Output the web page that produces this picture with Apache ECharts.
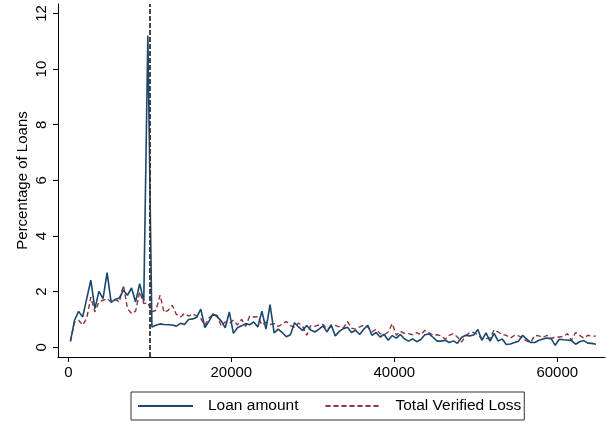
<!DOCTYPE html>
<html>
<head>
<meta charset="utf-8">
<script src="https://cdn.jsdelivr.net/npm/echarts@6/dist/echarts.min.js"></script>
<style>
  html, body { margin: 0; padding: 0; background: #fff; }
  #chart { width: 610px; height: 428px; }
</style>
</head>
<body>
<div id="chart"></div>
<script>
// Bins of $500, starting at $0; each point sits at its bin midpoint
const binStart = 0;
const binWidth = 500;

// Percentage of loans in each bin
const loanAmount = [
  0.22, 0.97, 1.29, 1.09, 1.75, 2.41, 1.39, 2.01, 1.75, 2.68,
  1.61, 1.72, 1.77, 2.05, 1.87, 2.13, 1.63, 2.29, 1.65, 11.21,
  0.73, 0.79, 0.84, 0.82, 0.81, 0.80, 0.76, 0.86, 0.82, 1.00,
  1.02, 1.08, 1.37, 0.71, 0.93, 1.20, 1.10, 0.95, 0.70, 1.27,
  0.50, 0.70, 0.77, 0.85, 0.81, 0.91, 0.73, 1.30, 0.65, 1.53,
  0.52, 0.65, 0.53, 0.38, 0.45, 0.88, 0.73, 0.60, 0.78, 0.62,
  0.55, 0.65, 0.77, 0.55, 0.81, 0.41, 0.57, 0.67, 0.72, 0.53,
  0.61, 0.46, 0.65, 0.79, 0.43, 0.53, 0.37, 0.46, 0.25, 0.42,
  0.33, 0.46, 0.30, 0.22, 0.30, 0.20, 0.28, 0.45, 0.48, 0.36,
  0.22, 0.22, 0.25, 0.17, 0.23, 0.14, 0.35, 0.43, 0.41, 0.44,
  0.64, 0.25, 0.52, 0.22, 0.50, 0.22, 0.30, 0.10, 0.12, 0.17,
  0.22, 0.43, 0.29, 0.17, 0.17, 0.25, 0.30, 0.33, 0.31, 0.07,
  0.29, 0.27, 0.26, 0.24, 0.11, 0.20, 0.24, 0.15, 0.14, 0.11
];

const verifiedLoss = [
  0.20, 0.90, 0.97, 0.80, 1.04, 1.80, 1.27, 1.63, 1.69, 1.75,
  1.63, 1.72, 1.63, 2.23, 1.39, 1.21, 1.30, 2.00, 1.57, 1.60,
  1.27, 1.33, 1.87, 1.25, 1.33, 1.51, 1.18, 1.09, 1.21, 1.12,
  1.20, 1.12, 1.03, 0.79, 1.05, 1.18, 1.15, 0.77, 0.91, 0.85,
  0.97, 0.80, 1.00, 0.75, 1.12, 1.09, 1.10, 0.80, 0.90, 0.82,
  0.85, 0.75, 0.83, 0.93, 0.78, 0.72, 0.87, 0.75, 0.43, 0.78,
  0.75, 0.80, 0.82, 0.65, 0.73, 0.79, 0.73, 0.70, 0.93, 0.69,
  0.65, 0.73, 0.79, 0.73, 0.55, 0.65, 0.49, 0.45, 0.55, 0.85,
  0.43, 0.57, 0.50, 0.49, 0.45, 0.53, 0.45, 0.61, 0.53, 0.43,
  0.45, 0.41, 0.29, 0.43, 0.49, 0.37, 0.19, 0.40, 0.53, 0.53,
  0.45, 0.31, 0.31, 0.33, 0.63, 0.55, 0.45, 0.43, 0.33, 0.43,
  0.41, 0.33, 0.22, 0.18, 0.43, 0.41, 0.35, 0.43, 0.31, 0.37,
  0.37, 0.39, 0.49, 0.25, 0.53, 0.43, 0.33, 0.43, 0.40, 0.40
];

const seriesNames = ['Loan amount', 'Total Verified Loss'];
const xTicks = [0, 20000, 40000, 60000];
const yTicks = [0, 2, 4, 6, 8, 10, 12];
const cutoff = 10000;

const FONT = '"Liberation Sans", Arial, Helvetica, sans-serif';

function pairs(values) {
  return values.map((v, i) => [binStart + binWidth * i + binWidth / 2, v]);
}

const chart = echarts.init(document.getElementById('chart'), null, { renderer: 'canvas' });

chart.setOption({
  backgroundColor: '#ffffff',
  animation: false,
  grid: { left: 58, right: 5, top: 4, bottom: 71, containLabel: false },
  xAxis: {
    type: 'value',
    min: -1277,
    max: 65860,
    axisLine: { show: true, onZero: false, lineStyle: { color: '#000', width: 1 } },
    axisTick: { show: true, length: 5, customValues: xTicks, lineStyle: { color: '#000' } },
    axisLabel: {
      customValues: xTicks,
      formatter: (v) => String(v),
      color: '#000', fontSize: 15, fontFamily: FONT, margin: 8
    },
    splitLine: { show: false }
  },
  yAxis: {
    type: 'value',
    min: -0.35,
    max: 12.34,
    name: 'Percentage of Loans',
    nameLocation: 'middle',
    nameGap: 28,
    nameMoveOverlap: false,
    nameTextStyle: { color: '#000', fontSize: 15, fontFamily: FONT },
    axisLine: { show: true, onZero: false, lineStyle: { color: '#000', width: 1 } },
    axisTick: { show: true, length: 5, customValues: yTicks, lineStyle: { color: '#000' } },
    axisLabel: {
      customValues: yTicks,
      formatter: (v) => String(v),
      rotate: 90, color: '#000', fontSize: 15, fontFamily: FONT, margin: 9
    },
    splitLine: { show: false }
  },
  legend: {
    data: seriesNames,
    left: 131,
    top: 392,
    orient: 'horizontal',
    itemWidth: 55,
    itemHeight: 14,
    itemGap: 26,
    padding: [6, 3, 6, 6],
    borderColor: '#333',
    borderWidth: 1,
    itemStyle: { opacity: 0 },
    textStyle: { color: '#000', fontSize: 15.5, fontFamily: FONT, padding: [0, 0, 0, 10] }
  },
  series: [
    {
      name: seriesNames[0],
      type: 'line',
      data: pairs(loanAmount),
      symbol: 'none',
      lineStyle: { color: '#1a476f', width: 1.6 },
      itemStyle: { color: '#1a476f' },
      z: 3,
      markLine: {
        silent: true,
        symbol: ['none', 'none'],
        label: { show: false },
        lineStyle: { color: '#333', type: [5, 2], width: 1.8 },
        data: [{ xAxis: cutoff }]
      }
    },
    {
      name: seriesNames[1],
      type: 'line',
      data: pairs(verifiedLoss),
      symbol: 'none',
      lineStyle: { color: '#90353b', width: 1.4, type: [5, 3] },
      itemStyle: { color: '#90353b' },
      z: 2
    }
  ]
});
</script>
</body>
</html>
